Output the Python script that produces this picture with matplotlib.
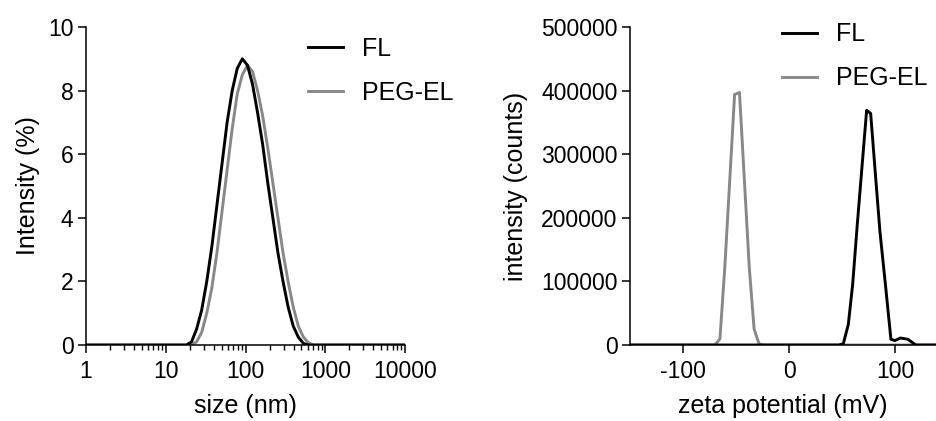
import matplotlib
matplotlib.use("Agg")
import matplotlib.pyplot as plt
from matplotlib.ticker import LogLocator, NullFormatter, FixedLocator

plt.rcParams['font.family'] = ['Liberation Sans', 'DejaVu Sans']
plt.rcParams['axes.unicode_minus'] = False

# size distribution (DLS), intensity %
size_nm = [1, 18.17, 21.04, 24.36, 28.21, 32.67, 37.84, 43.82, 50.75, 58.77,
           68.06, 78.82, 91.28, 105.7, 122.4, 141.8, 164.2, 190.1, 220.2,
           255.0, 295.3, 342.0, 396.1, 458.7, 531.2, 615.1, 712.4, 10000]
fl_int = [0, 0, 0.1, 0.5, 1.1, 2.0, 3.1, 4.4, 5.7, 7.0,
          8.0, 8.7, 9.0, 8.8, 8.2, 7.3, 6.3, 5.1, 4.0,
          2.9, 2.0, 1.2, 0.6, 0.25, 0.05, 0, 0, 0]
peg_int = [0, 0, 0, 0.1, 0.4, 1.0, 1.8, 2.9, 4.2, 5.5,
           6.8, 7.9, 8.5, 8.8, 8.6, 8.0, 7.2, 6.2, 5.1,
           4.0, 2.9, 2.0, 1.2, 0.6, 0.25, 0.07, 0, 0]

# zeta potential distribution, counts
fl_mv = [-150, 47.0, 51.1, 55.8, 59.9, 64.3, 68.7, 73.1, 76.9, 81.2,
         85.6, 90.5, 96.0, 99.7, 105.0, 112.0, 119.5, 138.5]
fl_counts = [0, 0, 2000, 32000, 95000, 190000, 280000, 369000, 364000, 272000,
             179000, 100000, 9000, 7000, 11000, 9000, 0, 0]
peg_mv = [-150, -69.8, -65.2, -60.6, -56.0, -51.4, -46.8, -42.2, -37.6,
          -33.0, -28.4, -23.8, 138.5]
peg_counts = [0, 0, 10000, 123000, 258000, 394000, 397000, 260000, 123000,
              25000, 2000, 0, 0]

black = '#000000'
grey = '#888888'
tick_fs = 16.5
label_fs = 18
leg_fs = 18

fig = plt.figure(figsize=(9.36, 4.21), dpi=100)
ax1 = fig.add_axes([0.0919, 0.1805, 0.3408, 0.7553])
ax2 = fig.add_axes([0.6731, 0.1805, 0.3269, 0.7553])

for ax in (ax1, ax2):
    for s in ('top', 'right'):
        ax.spines[s].set_visible(False)
    for s in ('left', 'bottom'):
        ax.spines[s].set_linewidth(1.1)
    ax.tick_params(which='major', direction='out', length=6, width=1.1,
                   labelsize=tick_fs)
    ax.tick_params(axis='y', pad=3)
    ax.tick_params(axis='x', pad=5)

# left: size
ax1.plot(size_nm, fl_int, color=black, lw=2.1, label='FL', zorder=3,
         solid_joinstyle='round')
ax1.plot(size_nm, peg_int, color=grey, lw=2.1, label='PEG-EL', zorder=2,
         solid_joinstyle='round')
ax1.set_xscale('log')
ax1.set_xlim(1, 10000)
ax1.set_ylim(0, 10)
ax1.set_xticks([1, 10, 100, 1000, 10000])
ax1.set_xticklabels(['1', '10', '100', '1000', '10000'])
ax1.xaxis.set_minor_locator(LogLocator(base=10, subs=range(2, 10), numticks=20))
ax1.xaxis.set_minor_formatter(NullFormatter())
ax1.tick_params(axis='x', which='minor', direction='out', length=3.5, width=1.0)
ax1.set_yticks([0, 2, 4, 6, 8, 10])
ax1.set_xlabel('size (nm)', fontsize=label_fs)
ax1.set_ylabel('Intensity (%)', fontsize=label_fs)
ax1.xaxis.set_label_coords(0.5, -0.155)
ax1.yaxis.set_label_coords(-0.145, 0.5)
ax1.legend(loc='upper left', bbox_to_anchor=(0.696, 0.968), frameon=False,
           fontsize=leg_fs, handlelength=1.4, handletextpad=0.75,
           borderpad=0, labelspacing=0.8, borderaxespad=0)

# right: zeta
ax2.plot(fl_mv, fl_counts, color=black, lw=2.1, label='FL', zorder=3)
ax2.plot(peg_mv, peg_counts, color=grey, lw=2.1, label='PEG-EL', zorder=2)
ax2.set_xlim(-150, 138.5)
ax2.set_ylim(0, 500000)
ax2.xaxis.set_major_locator(FixedLocator([-100, 0, 100]))
ax2.set_yticks([0, 100000, 200000, 300000, 400000, 500000])
ax2.set_yticklabels(['0', '100000', '200000', '300000', '400000', '500000'])
ax2.set_xlabel('zeta potential (mV)', fontsize=label_fs)
ax2.set_ylabel('intensity (counts)', fontsize=label_fs)
ax2.xaxis.set_label_coords(0.5, -0.155)
ax2.yaxis.set_label_coords(-0.335, 0.5)
ax2.legend(loc='upper left', bbox_to_anchor=(0.497, 1.015), frameon=False,
           fontsize=leg_fs, handlelength=1.4, handletextpad=0.75,
           borderpad=0, labelspacing=0.8, borderaxespad=0)

fig.savefig('out.png', dpi=100)
